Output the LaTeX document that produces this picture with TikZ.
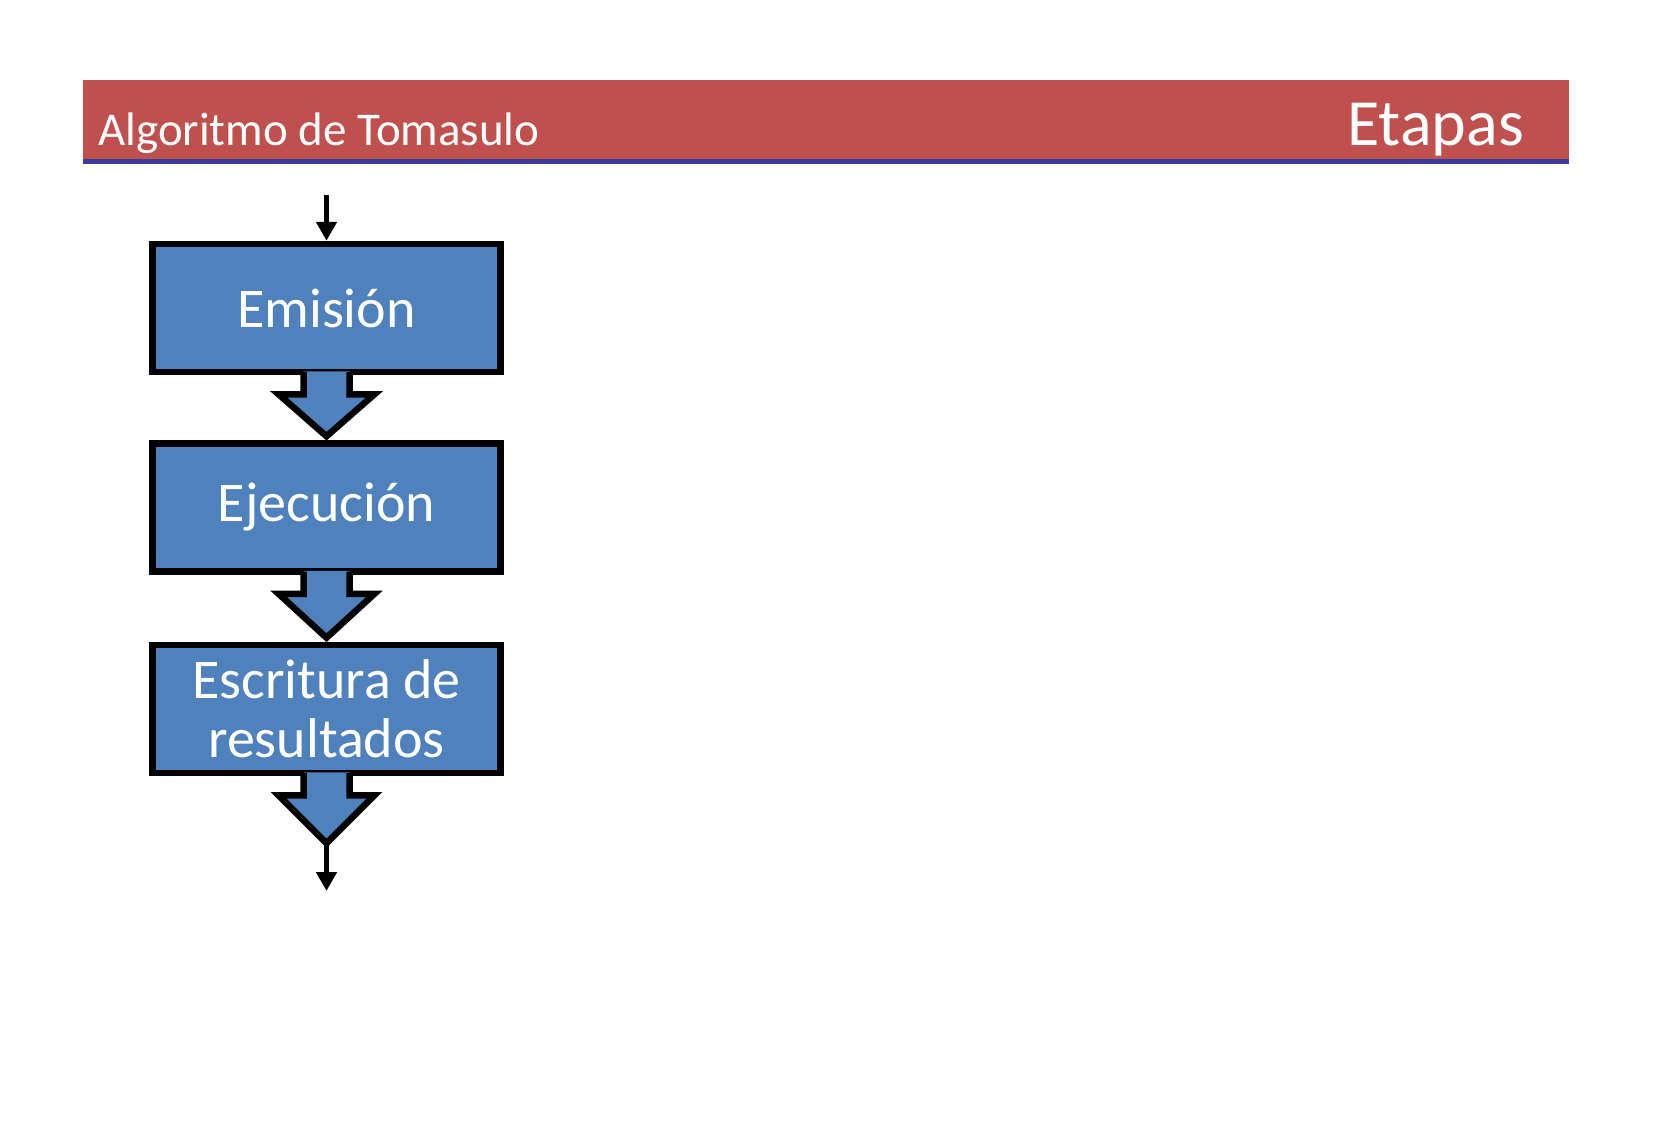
\documentclass[tikz,border=0pt]{standalone}
\usepackage{fontspec}
\setmainfont{Carlito}
\usetikzlibrary{calc,arrows.meta}
\definecolor{hdrred}{HTML}{C0504D}
\definecolor{hdrblue}{HTML}{3B3B9E}
\definecolor{boxblue}{HTML}{4F81BD}
\newcommand\blockarrowdraw[2]{%
  \fill[boxblue] ($(#1.south)+(-23,-4)$) -- ($(#1.south)+(-23,19)$) -- ($(#1.south)+(-48,19)$) -- (#2) -- ($(#1.south)+(48,19)$) -- ($(#1.south)+(23,19)$) -- ($(#1.south)+(23,-4)$) -- cycle;
  \draw[blockline] ($(#1.south)+(-23,-3.25)$) -- ($(#1.south)+(-23,19)$) -- ($(#1.south)+(-48,19)$) -- (#2) -- ($(#1.south)+(48,19)$) -- ($(#1.south)+(23,19)$) -- ($(#1.south)+(23,-3.25)$);
}
\begin{document}
\begin{tikzpicture}[x=1pt,y=-1pt,
  stage/.style={draw=black, fill=boxblue, line width=6.5pt, minimum width=348pt, minimum height=128pt, inner sep=0pt, text=white, font=\fontsize{56}{59}\selectfont, align=center},
  blockline/.style={draw=black, line width=6.5pt, line join=miter},
  flow/.style={draw=black, line width=5.5pt, -{Triangle[length=19pt,width=20pt]}},
  hdrtext/.style={text=white, inner sep=0pt}]
\useasboundingbox (0,0) rectangle (1654,1143);
% header band
\fill[hdrred] (83,80) rectangle (1569,159);
\fill[hdrblue] (83,159) rectangle (1569,164);
\node[hdrtext, anchor=base west, font=\fontsize{47}{50}\selectfont] (title) at (98,145) {Algoritmo de Tomasulo};
\node[hdrtext, anchor=base east, font=\fontsize{66}{70}\selectfont] (etapas) at (1524,145) {Etapas};
% stages
\node[stage] (em) at (326.5,308) {Emisión};
\node[stage] (ej) at (326.5,507.5) {Ejecución};
\node[stage] (es) at (326.5,709) {Escritura de\\resultados};
% tips
\coordinate (t1) at ($(ej.north)+(0,-4)$);
\coordinate (t2) at ($(es.north)+(0,-4)$);
\coordinate (t3) at ($(es.south)+(0,67)$);
\coordinate (in) at (326.5,195);
\coordinate (out) at (326.5,891);
\blockarrowdraw{em}{t1}
\blockarrowdraw{ej}{t2}
\blockarrowdraw{es}{t3}
\draw[flow] (in) -- (em.north);
\draw[flow] (t3) -- (out);
\end{tikzpicture}
\end{document}
